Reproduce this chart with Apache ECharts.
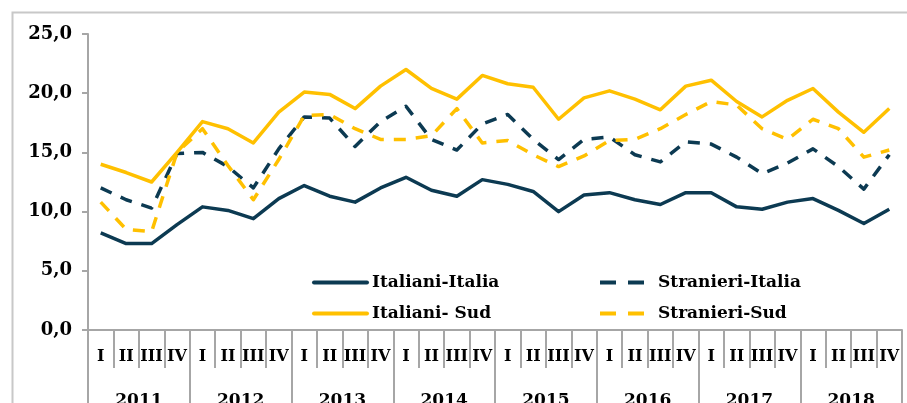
<!DOCTYPE html>
<html>
<head>
<meta charset="utf-8">
<script src="https://cdn.jsdelivr.net/npm/echarts@6/dist/echarts.min.js"></script>
<style>
html,body{margin:0;padding:0;background:#fff;}
#chart{width:907px;height:403px;}
</style>
</head>
<body>
<div id="chart"></div>
<script>
const years = ['2011','2012','2013','2014','2015','2016','2017','2018'];
const quarters = ['I','II','III','IV'];
const yTicks = [0, 5, 10, 15, 20, 25];

const italianiItalia = [8.2, 7.3, 7.3, 8.9, 10.4, 10.1, 9.4, 11.1, 12.2, 11.3, 10.8, 12.0, 12.9, 11.8, 11.3, 12.7, 12.3, 11.7, 10.0, 11.4, 11.6, 11.0, 10.6, 11.6, 11.6, 10.4, 10.2, 10.8, 11.1, 10.1, 9.0, 10.2];
const stranieriItalia = [12.0, 11.0, 10.3, 14.9, 15.0, 13.8, 12.0, 15.3, 18.0, 17.9, 15.5, 17.6, 18.9, 16.1, 15.2, 17.4, 18.2, 16.1, 14.4, 16.1, 16.3, 14.8, 14.2, 15.9, 15.7, 14.6, 13.2, 14.1, 15.3, 13.8, 11.9, 14.8];
const italianiSud = [14.0, 13.3, 12.5, 15.0, 17.6, 17.0, 15.8, 18.4, 20.1, 19.9, 18.7, 20.6, 22.0, 20.4, 19.5, 21.5, 20.8, 20.5, 17.8, 19.6, 20.2, 19.5, 18.6, 20.6, 21.1, 19.3, 18.0, 19.4, 20.4, 18.4, 16.7, 18.7];
const stranieriSud = [10.8, 8.5, 8.3, 15.0, 17.0, 13.9, 11.0, 14.4, 18.1, 18.2, 17.0, 16.1, 16.1, 16.4, 18.7, 15.8, 16.0, 14.8, 13.8, 14.7, 16.0, 16.1, 17.0, 18.2, 19.3, 19.0, 17.0, 16.1, 17.8, 17.0, 14.6, 15.2];

const categories = [];
years.forEach(y => quarters.forEach(q => categories.push(y + '-' + q)));

const NAVY = '#0c3a52';
const GOLD = '#ffc000';
const AXIS = '#a6a6a6';
const FONT = '"DejaVu Serif", serif';

const chart = echarts.init(document.getElementById('chart'), null, {renderer: 'canvas'});

function line(name, data, color, dashed) {
  return {
    name: name,
    type: 'line',
    data: data,
    symbol: 'none',
    showSymbol: false,
    animation: false,
    lineStyle: {color: color, width: 3.5, type: dashed ? [12, 10] : 'solid', join: 'round'},
    itemStyle: {color: color}
  };
}

chart.setOption({
  backgroundColor: '#fff',
  animation: false,
  graphic: [{
    type: 'rect',
    left: 10, top: 10,
    shape: {x: 0, y: 0, width: 1000, height: 1000},
    style: {fill: 'none', stroke: '#c8c8c8', lineWidth: 2},
    silent: true, z: -10
  }],
  grid: {left: 88, right: 5, top: 34, bottom: 73, containLabel: false, outerBoundsMode: 'none'},
  legend: [{
    data: ['Italiani-Italia', 'Italiani- Sud'],
    orient: 'vertical',
    left: 307, top: 269,
    itemWidth: 53, itemHeight: 14, itemGap: 14,
    itemStyle: {opacity: 0, borderWidth: 0},
    lineStyle: {width: 4, cap: 'round', opacity: 1},
    textStyle: {fontFamily: FONT, fontWeight: 'bold', fontSize: 17, color: '#000'}
  }, {
    data: ['Stranieri-Italia', 'Stranieri-Sud'],
    orient: 'vertical',
    left: 593, top: 269,
    itemWidth: 44, itemHeight: 14, itemGap: 14,
    itemStyle: {opacity: 0, borderWidth: 0},
    lineStyle: {width: 4, type: [16, 12], opacity: 1},
    textStyle: {fontFamily: FONT, fontWeight: 'bold', fontSize: 17, color: '#000', padding: [0, 0, 0, 9]}
  }],
  xAxis: [{
    type: 'category',
    data: categories,
    position: 'bottom',
    boundaryGap: true,
    axisLine: {show: true, lineStyle: {color: AXIS, width: 2}},
    axisTick: {show: true, interval: 0, length: 38, lineStyle: {color: AXIS, width: 2}},
    axisLabel: {
      interval: 0, margin: 19, color: '#000',
      fontFamily: FONT, fontWeight: 'bold', fontSize: 16,
      formatter: v => v.split('-')[1]
    },
    splitLine: {show: false}
  }, {
    type: 'category',
    data: years,
    position: 'bottom',
    boundaryGap: true,
    axisLine: {show: false},
    axisTick: {show: true, interval: 0, length: 90, lineStyle: {color: AXIS, width: 2}},
    axisLabel: {
      interval: 0, margin: 62, color: '#000',
      fontFamily: FONT, fontWeight: 'bold', fontSize: 17
    },
    splitLine: {show: false}
  }],
  yAxis: {
    type: 'value',
    min: yTicks[0], max: yTicks[yTicks.length - 1], interval: 5,
    axisLine: {show: true, lineStyle: {color: AXIS, width: 2}},
    axisTick: {show: true, length: 6, lineStyle: {color: AXIS, width: 2}},
    splitLine: {show: false},
    axisLabel: {
      margin: 16, color: '#000',
      fontFamily: FONT, fontWeight: 'bold', fontSize: 18,
      formatter: v => v.toFixed(1).replace('.', ',')
    }
  },
  series: [
    line('Italiani-Italia', italianiItalia, NAVY, false),
    line('Stranieri-Italia', stranieriItalia, NAVY, true),
    line('Italiani- Sud', italianiSud, GOLD, false),
    line('Stranieri-Sud', stranieriSud, GOLD, true)
  ]
});
</script>
</body>
</html>
